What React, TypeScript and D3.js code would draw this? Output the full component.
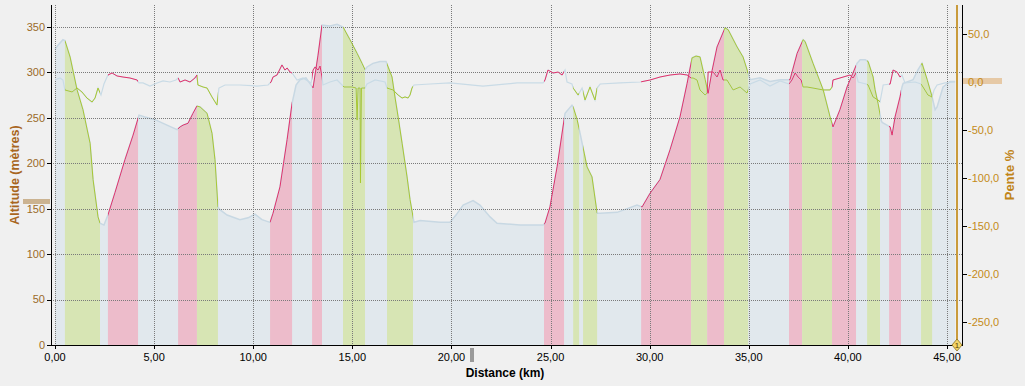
import * as d3 from 'd3';

// altitude profile (km / m)
const distKm = [
  0, 0.15, 0.4, 0.5, 0.76, 1.11, 1.41, 1.77, 1.92, 2.17, 2.27, 2.47, 2.67, 3.03, 3.53, 3.94,
  4.24, 4.54, 5.05, 5.65, 6.16, 6.31, 6.46, 6.71, 6.96, 7.16, 7.32, 7.67, 7.92, 8.07, 8.22,
  8.32, 8.68, 9.33, 9.74, 10.09, 10.44, 10.85, 11.0, 11.35, 11.71, 11.96, 12.16, 12.36, 12.66,
  12.92, 13.02, 13.27, 13.47, 13.87, 14.23, 14.53, 14.88, 15.24, 15.49, 15.64, 15.74, 16.04,
  16.4, 16.7, 17.0, 17.15, 17.31, 17.51, 17.76, 17.91, 18.11, 18.42, 19.42, 19.93, 20.23,
  20.59, 21.09, 21.44, 21.95, 22.3, 23.46, 24.62, 24.72, 24.97, 25.33, 25.73, 26.08, 26.14,
  26.34, 26.49, 26.84, 27.09, 27.35, 27.5, 28.36, 29.36, 29.62, 30.02, 30.52, 31.03, 31.53,
  31.89, 32.14, 32.34, 32.54, 32.8, 32.95, 33.15, 33.4, 33.8, 33.96, 34.41, 34.71, 35.07,
  35.57, 36.07, 36.58, 37.08, 37.44, 37.74, 37.84, 38.24, 38.75, 39.1, 39.25, 39.6, 39.96,
  40.46, 40.62, 40.87, 41.02, 41.27, 41.37, 41.52, 41.68, 41.73, 42.13, 42.23, 42.38, 42.63,
  42.73, 42.79, 43.29, 43.54, 43.74, 44.0, 44.25, 44.4, 44.5, 44.8, 45.16, 45.41,
];
const altitudeM = [
  325, 330, 336, 335, 317, 281, 259, 222, 182, 141, 134, 132, 143, 168, 204, 231,
  253, 251, 248, 242, 237, 240, 242, 244, 255, 263, 262, 255, 233, 204, 152,
  149, 143, 138, 140, 144, 138, 135, 145, 174, 226, 266, 286, 292, 294,
  286, 283, 319, 352, 351, 353, 350, 336, 321, 310, 303, 306, 310,
  312, 312, 295, 273, 251, 222, 185, 160, 135, 137, 135, 135, 143,
  154, 159, 154, 141, 134, 132, 132, 134, 152, 196, 255, 264, 262,
  248, 233, 196, 185, 145, 145, 146, 154, 152, 167, 182, 215, 251,
  288, 316, 318, 317, 292, 277, 302, 328, 349, 347, 328, 317, 292,
  294, 290, 292, 292, 321, 336, 334, 310, 281, 251, 240, 259, 284,
  310, 314, 314, 312, 295, 281, 266, 247, 245, 240, 231, 251, 273,
  284, 288, 292, 303, 310, 292, 273, 259, 262, 284, 290, 290,
];

// climb / descent sections
const bandStartKm = [0.5, 2.67, 6.21, 7.16, 10.85, 12.97, 14.53, 16.75, 24.67, 26.14, 26.64, 29.57, 32.09, 32.9, 33.75, 37.03, 37.69, 39.2, 40.97, 42.08, 43.69];
const bandEndKm = [2.27, 4.19, 7.16, 8.22, 11.96, 13.47, 15.64, 18.06, 25.68, 26.44, 27.35, 32.09, 32.9, 33.75, 34.97, 37.69, 39.2, 40.41, 41.62, 42.68, 44.25];
const bandKind = ['down', 'up', 'up', 'down', 'up', 'up', 'down', 'down', 'up', 'down', 'down', 'up', 'down', 'up', 'down', 'up', 'down', 'up', 'down', 'up', 'down'];

// slope (km / %)
const slopeKm = [
  0, 0.25, 0.4, 0.5, 0.86, 1.11, 1.36, 1.61, 1.87, 2.02, 2.17, 2.32, 2.47, 2.67, 2.88, 3.13,
  3.43, 3.78, 4.14, 4.24, 4.44, 4.79, 5.15, 5.45, 5.8, 6.1, 6.21, 6.31, 6.56, 6.81, 7.06, 7.16,
  7.21, 7.47, 7.67, 7.92, 8.17, 8.27, 8.58, 9.33, 10.19, 10.75, 10.9, 11.0, 11.2, 11.45, 11.6,
  11.71, 11.86, 11.96, 12.21, 12.51, 12.92, 13.02, 13.12, 13.27, 13.37, 13.47, 13.52, 13.87,
  14.23, 14.48, 14.58, 14.98, 15.19, 15.24, 15.29, 15.39, 15.41, 15.46, 15.64, 15.74, 16.15,
  16.65, 16.75, 17.05, 17.31, 17.51, 17.66, 17.81, 17.91, 18.01, 18.11, 18.92, 19.93, 21.59,
  23.31, 24.62, 24.72, 24.87, 25.13, 25.38, 25.58, 25.73, 25.83, 26.08, 26.14, 26.39, 26.59,
  26.74, 26.99, 27.24, 27.35, 27.5, 28.51, 29.52, 30.02, 30.52, 31.03, 31.53, 31.89, 32.09,
  32.19, 32.39, 32.54, 32.8, 32.9, 32.95, 33.2, 33.4, 33.55, 33.7, 33.9, 34.21, 34.56, 34.91,
  35.07, 35.57, 36.07, 36.58, 37.03, 37.18, 37.34, 37.49, 37.64, 37.74, 37.94, 38.24, 38.75,
  39.1, 39.2, 39.25, 39.6, 40.11, 40.26, 40.41, 40.52, 40.92, 41.02, 41.27, 41.52, 41.62,
  41.78, 42.13, 42.23, 42.28, 42.48, 42.63, 42.73, 42.88, 43.39, 43.69, 43.79, 44.04, 44.25,
  44.35, 44.5, 44.9, 45.41,
];
const slopePct = [
  2.3, 4.4, 2.3, -8.1, -10.2, -6.1, -10.2, -16.5, -20.7, -16.5, -6.1, -13.4, -1.9, 7.5, 9.6, 6.5,
  5.4, 4.4, 2.3, -0.8, -0.8, -4.0, -0.8, 1.3, 0.2, 2.3, 4.4, 0.2, 2.3, 0.2, 4.4, 7.5,
  -2.9, -5.0, -6.1, -15.4, -23.8, -6.1, -2.9, -2.9, -4.0, -2.9, 0.2, 5.4, 7.5, 18.0, 12.7,
  14.8, 10.6, 9.6, 2.3, 4.4, -0.8, 12.7, 15.9, 12.7, 16.9, 5.4, -2.9, 0.2,
  2.3, -2.9, -5.0, -5.0, -6.1, -39.5, -6.1, -6.1, -105.2, -6.1, -6.1, -1.9, 2.3,
  0.2, -6.1, -8.1, -13.4, -16.5, -15.4, -16.5, -13.4, -6.1, -2.9, -1.9, -0.8, -4.0,
  -0.8, -0.8, 2.3, 12.7, 9.6, 10.6, 7.5, 12.7, 0.2, -1.9, -6.1, -13.4, -6.1,
  -18.6, -5.0, -18.6, -6.1, -1.9, -0.8, 0.2, 2.3, 5.4, 7.5, 8.6, 7.5, 4.4,
  4.4, 2.3, -8.1, -13.4, -11.3, 10.6, 10.6, 5.4, 12.7, 2.3, 2.3, -8.1, -5.0, -11.3,
  -1.9, 2.3, -4.0, 1.3, -1.9, 2.3, 9.6, 5.4, 2.3, -5.0, -5.0, -6.1, -8.1,
  -8.1, -5.0, 2.3, 4.4, 7.5, 4.4, 9.6, 0.2, -1.9, -2.9, -15.4, -18.6, -20.7,
  -2.9, -1.9, 7.5, 12.7, 10.6, 5.4, 7.5, -0.8, 0.2, -1.9, -5.0, -13.4, -15.4,
  -8.1, -2.9, -0.8, 0.2,
];

const distTicks = [0, 5, 10, 15, 20, 25, 30, 35, 40, 45];
const altTicks = [0, 50, 100, 150, 200, 250, 300, 350];
const slopeTicks = [50, 0, -50, -100, -150, -200, -250];

const W = 1025;
const H = 386;
const LEFT = 51;
const RIGHT = 962;
const TOP = 5;
const BOTTOM = 345;
const FONT = '"Liberation Sans", Arial, sans-serif';

const fr = d3.formatLocale({ decimal: ',', thousands: '.', grouping: [3], currency: ['', '€'], minus: '-' });
const fmtDist = fr.format('.2f');
const fmtSlope = fr.format('.1f');

export default function App() {
  const x = d3.scaleLinear().domain([0, 45]).range([55, 947]);
  const yAlt = d3.scaleLinear().domain([0, 350]).range([345, 27]);
  const ySlope = d3.scaleLinear().domain([-250, 50]).range([321.7, 34.3]);

  const altPts: [number, number][] = distKm.map((d, i) => [d, altitudeM[i]]);
  const slopePts: [number, number][] = slopeKm.map((d, i) => [d, slopePct[i]]);

  const area = d3.area<[number, number]>().x(d => x(d[0])).y0(BOTTOM).y1(d => yAlt(d[1]));
  const altLine = d3.line<[number, number]>().x(d => x(d[0])).y(d => yAlt(d[1]));
  const slopeLine = d3.line<[number, number]>().x(d => x(d[0])).y(d => ySlope(d[1]));

  const areaD = area(altPts) || '';
  const altD = altLine(altPts) || '';
  const slopeD = slopeLine(slopePts) || '';

  const fill = { up: '#edbccb', down: '#d7e5b4' };
  const stroke = { up: '#e4306a', down: '#a9c830' };

  return (
    <svg width={W} height={H} style={{ position: 'absolute', left: 0, top: 0 }}>
      <defs>
        <clipPath id="area-clip">
          <path d={areaD} />
        </clipPath>
        {bandStartKm.map((s, i) => (
          <clipPath id={`band-${i}`} key={i}>
            <rect x={x(s)} y={0} width={x(bandEndKm[i]) - x(s)} height={H} />
          </clipPath>
        ))}
      </defs>
      <rect x={0} y={0} width={W} height={H} fill="#f0f0f0" />

      {/* profile area + coloured sections */}
      <path d={areaD} fill="#e1e8ed" />
      <g clipPath="url(#area-clip)">
        {bandStartKm.map((s, i) => (
          <rect key={i} x={x(s)} y={TOP} width={x(bandEndKm[i]) - x(s)} height={BOTTOM - TOP}
            fill={fill[bandKind[i] as 'up' | 'down']} />
        ))}
      </g>
      <path d={altD} fill="none" stroke="#c8d8e3" strokeWidth={1.5} />

      {/* grid */}
      <g stroke="#7a7a7a" strokeWidth={1} strokeDasharray="1 1" shapeRendering="crispEdges">
        {altTicks.filter(t => t > 0).map(t => (
          <line key={t} x1={LEFT} x2={RIGHT} y1={Math.round(yAlt(t)) + 0.5} y2={Math.round(yAlt(t)) + 0.5} />
        ))}
        {distTicks.map(t => (
          <line key={t} x1={Math.round(x(t)) + 0.5} x2={Math.round(x(t)) + 0.5} y1={TOP} y2={BOTTOM} />
        ))}
      </g>

      {/* slope line */}
      <path d={slopeD} fill="none" stroke="#c9dbe6" strokeWidth={1.2} />
      {bandStartKm.map((s, i) => (
        <g key={i} clipPath={`url(#band-${i})`}>
          <path d={slopeD} fill="none" stroke={stroke[bandKind[i] as 'up' | 'down']} strokeWidth={1} />
          <path d={altD} fill="none" stroke={stroke[bandKind[i] as 'up' | 'down']} strokeWidth={1} />
        </g>
      ))}

      {/* cursor */}
      <line x1={957} x2={957} y1={TOP} y2={BOTTOM} stroke="#c99b3c" strokeWidth={2} />

      {/* axes */}
      <g stroke="#000" strokeWidth={1} shapeRendering="crispEdges">
        <line x1={LEFT + 0.5} x2={LEFT + 0.5} y1={TOP} y2={BOTTOM + 1} />
        <line x1={RIGHT + 0.5} x2={RIGHT + 0.5} y1={TOP} y2={BOTTOM + 1} />
        <line x1={LEFT} x2={RIGHT + 1} y1={BOTTOM + 0.5} y2={BOTTOM + 0.5} />
        {altTicks.map(t => (
          <line key={t} x1={47} x2={LEFT} y1={Math.round(yAlt(t)) + 0.5} y2={Math.round(yAlt(t)) + 0.5} />
        ))}
        {slopeTicks.map(t => (
          <line key={t} x1={RIGHT} x2={RIGHT + 5} y1={Math.round(ySlope(t)) + 0.5} y2={Math.round(ySlope(t)) + 0.5} />
        ))}
        {distTicks.map(t => (
          <line key={t} x1={Math.round(x(t)) + 0.5} x2={Math.round(x(t)) + 0.5} y1={BOTTOM} y2={BOTTOM + 4} />
        ))}
      </g>

      {/* scroll markers */}
      <rect x={23} y={199} width={27} height={5} fill="#cbb391" />
      <rect x={963} y={78} width={39} height={6} fill="#e6c9a6" />
      <rect x={470} y={348} width={4} height={14} fill="#9a9a9a" />

      <g fontFamily={FONT} fontSize={11}>
        {altTicks.map(t => (
          <text key={t} x={45} y={yAlt(t)} dy="0.35em" textAnchor="end" fill="#9a6a28">{t}</text>
        ))}
        {slopeTicks.map(t => (
          <text key={t} x={968} y={ySlope(t)} dy="0.35em" fill="#c48a18">{fmtSlope(t)}</text>
        ))}
        {distTicks.map(t => (
          <text key={t} x={x(t)} y={361} textAnchor="middle" fill="#000">{fmtDist(t)}</text>
        ))}
      </g>

      <g fontFamily={FONT} fontWeight="bold" fontSize={12.5}>
        <text transform="translate(19,175) rotate(-90)" textAnchor="middle" fill="#a8661e">Altitude (mètres)</text>
        <text transform="translate(1014,175) rotate(-90)" textAnchor="middle" fill="#c08418" fontSize={13}>Pente %</text>
        <text x={505} y={377} textAnchor="middle" fill="#000" fontSize={12}>Distance (km)</text>
      </g>

      {/* marker 1 */}
      <path d="M957,339 L962,345 L957,351 L952,345 Z" fill="#f2d569" stroke="#8a6d1c" strokeWidth={0.8} />
      <text x={957} y={348} textAnchor="middle" fontFamily={FONT} fontSize={8} fill="#5a4000">1</text>
    </svg>
  );
}
